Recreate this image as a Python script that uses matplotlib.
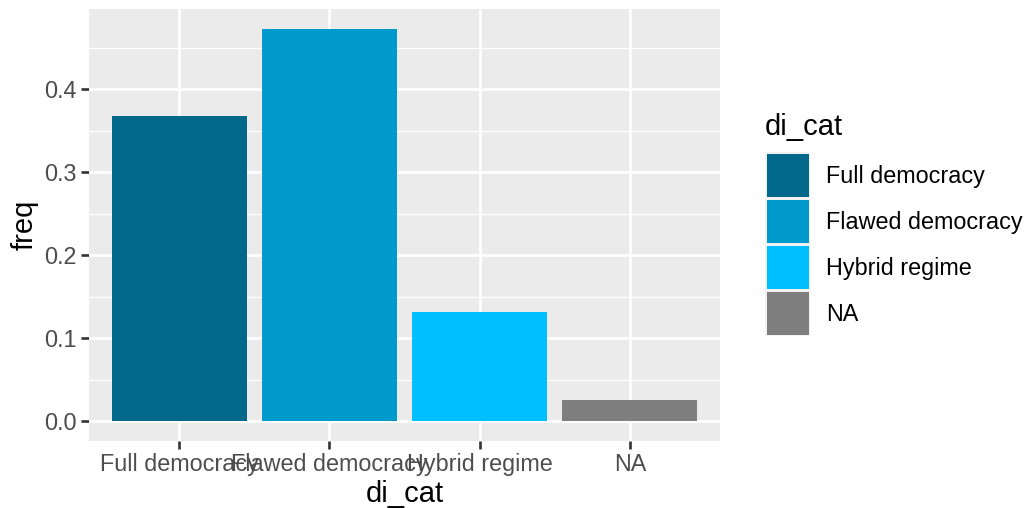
import matplotlib
matplotlib.use("Agg")
import matplotlib.pyplot as plt
from matplotlib.patches import Rectangle

categories = ["Full democracy", "Flawed democracy", "Hybrid regime", "NA"]
freq = [0.368, 0.473, 0.132, 0.026]
colors = ["#00688B", "#009ACD", "#00BFFF", "#7F7F7F"]
y_ticks = [0.0, 0.1, 0.2, 0.3, 0.4]
y_minor = [0.05, 0.15, 0.25, 0.35, 0.45]

plt.rcParams["font.family"] = ["Liberation Sans", "DejaVu Sans"]

W, H = 1026, 508
fig = plt.figure(figsize=(W / 100, H / 100), dpi=100)
fig.patch.set_facecolor("white")

TICK_FS = 16.8
TITLE_FS = 21

# panel placement in pixels
px0, px1 = 89, 720
py0, py1 = 9, 440.7
ax = fig.add_axes([px0 / W, 1 - py1 / H, (px1 - px0) / W, (py1 - py0) / H])
ax.set_facecolor("#EBEBEB")

x = list(range(1, len(categories) + 1))
ax.bar(x, freq, width=0.9, color=colors, zorder=3)

ymax = max(freq)
ax.set_xlim(0.4, len(categories) + 0.6)
ax.set_ylim(-0.05 * ymax, ymax * 1.05)

for v in y_minor:
    ax.axhline(v, color="white", lw=0.9, zorder=1)
for v in y_ticks:
    ax.axhline(v, color="white", lw=1.9, zorder=2)
for v in x:
    ax.axvline(v, color="white", lw=1.9, zorder=2)

for s in ax.spines.values():
    s.set_visible(False)

ax.set_xticks(x)
ax.set_xticklabels(categories)
ax.set_yticks(y_ticks)
ax.set_yticklabels([f"{v:.1f}" for v in y_ticks])
ax.tick_params(axis="both", colors="#333333", length=6, width=1.9,
               labelsize=TICK_FS, labelcolor="#4D4D4D", pad=3)
ax.set_xlabel("di_cat", fontsize=TITLE_FS, color="black", labelpad=3)
ax.set_ylabel("freq", fontsize=TITLE_FS, color="black", labelpad=4)

# legend
fig.text(765 / W, 1 - 135 / H, "di_cat", fontsize=TITLE_FS, color="black",
         ha="left", va="baseline")
key_x, key_w, key_pitch = 765, 45, 46
key_top = 152
for i, (lab, c) in enumerate(zip(categories, colors)):
    top = key_top + i * key_pitch
    fig.patches.append(Rectangle((key_x / W, 1 - (top + key_pitch) / H), key_w / W, key_pitch / H,
                                 transform=fig.transFigure, facecolor="#F2F2F2",
                                 edgecolor="none"))
    fig.patches.append(Rectangle(((key_x + 1.5) / W, 1 - (top + key_pitch - 1.5) / H),
                                 (key_w - 3) / W, (key_pitch - 3) / H,
                                 transform=fig.transFigure, facecolor=c,
                                 edgecolor="none"))
    fig.text(826 / W, 1 - (top + 31) / H, lab, fontsize=TICK_FS,
             color="black", ha="left", va="baseline")

fig.savefig("out.png", dpi=100)
